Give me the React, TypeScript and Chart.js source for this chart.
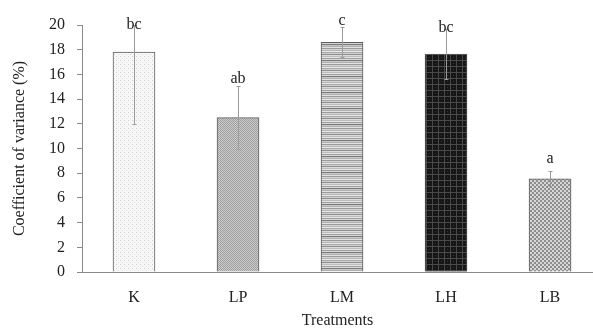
import { useEffect, useRef } from 'react';
import { Chart, registerables } from 'chart.js';

Chart.register(...registerables);

const categories = ['K', 'LP', 'LM', 'LH', 'LB'];
const means = [17.8, 12.5, 18.6, 17.65, 7.55];
const errors = [5.8, 2.55, 1.2, 2.05, 0.6];
const letters = ['bc', 'ab', 'c', 'bc', 'a'];
const letterBaselines = [19.7, 15.3, 20.0, 19.45, 8.85];
const yMin = 0;
const yMax = 20;
const yStep = 2;

function makePattern(kind: string): CanvasPattern | string {
  const c = document.createElement('canvas');
  const ctx = c.getContext('2d');
  if (!ctx) return '#ccc';
  const px = (x: number, y: number, col: string, w = 1, h = 1) => {
    ctx.fillStyle = col;
    ctx.fillRect(x, y, w, h);
  };
  if (kind === 'K') {
    c.width = 4; c.height = 4;
    px(0, 0, '#f7f7f7', 4, 4);
    px(0, 0, '#cfcfcf');
    px(2, 2, '#dedede');
  } else if (kind === 'LP') {
    c.width = 4; c.height = 4;
    for (let y = 0; y < 4; y++) for (let x = 0; x < 4; x++) px(x, y, (x + y) % 2 ? '#c9c9c9' : '#a2a2a2');
  } else if (kind === 'LM') {
    const rows = ['#9c9c9c', '#d4d4d4', '#b6b6b6', '#e8e8e8', '#a9a9a9', '#cfcfcf', '#8e8e8e', '#dcdcdc', '#bcbcbc', '#e4e4e4', '#a0a0a0', '#d8d8d8', '#7a7a7a', '#c8c8c8', '#b0b0b0', '#e2e2e2'];
    c.width = 1; c.height = rows.length;
    rows.forEach((col, i) => px(0, i, col));
  } else if (kind === 'LH') {
    c.width = 6; c.height = 6;
    px(0, 0, '#161616', 6, 6);
    px(0, 0, '#4a4a4a', 6, 1);
    px(0, 0, '#4a4a4a', 1, 6);
    px(3, 3, '#2e2e2e');
  } else {
    c.width = 4; c.height = 4;
    px(0, 0, '#d6d6d6', 4, 4);
    px(0, 0, '#8e8e8e', 2, 2);
    px(2, 2, '#8e8e8e', 2, 2);
  }
  const p = ctx.createPattern(c, 'repeat');
  return p || '#ccc';
}

const errorBarPlugin = {
  id: 'errorBars',
  afterDatasetsDraw(chart: any) {
    const { ctx, chartArea, scales } = chart;
    const xs = scales.x;
    const ys = scales.y;
    ctx.save();
    ctx.beginPath();
    ctx.rect(chartArea.left, chartArea.top, chartArea.right - chartArea.left, chartArea.bottom - chartArea.top);
    ctx.clip();
    ctx.strokeStyle = '#9a9a9a';
    ctx.lineWidth = 1;
    means.forEach((m, i) => {
      const x = Math.round(xs.getPixelForValue(i)) + 0.5;
      const yt = ys.getPixelForValue(Math.min(m + errors[i], yMax));
      const yb = ys.getPixelForValue(m - errors[i]);
      ctx.beginPath();
      ctx.moveTo(x, yt);
      ctx.lineTo(x, yb);
      ctx.moveTo(x - 2, Math.round(yt) + 0.5);
      ctx.lineTo(x + 2, Math.round(yt) + 0.5);
      ctx.moveTo(x - 2, Math.round(yb) + 0.5);
      ctx.lineTo(x + 2, Math.round(yb) + 0.5);
      ctx.stroke();
    });
    ctx.restore();
    ctx.save();
    ctx.fillStyle = '#222';
    ctx.font = '16px "Liberation Serif"';
    ctx.textAlign = 'center';
    ctx.textBaseline = 'alphabetic';
    letters.forEach((t, i) => {
      ctx.fillText(t, xs.getPixelForValue(i), ys.getPixelForValue(letterBaselines[i]));
    });
    ctx.restore();
  },
};

export default function App() {
  const ref = useRef<HTMLCanvasElement | null>(null);
  useEffect(() => {
    document.body.style.margin = '0';
    if (!ref.current) return;
    Chart.defaults.font.family = '"Liberation Serif", "Times New Roman", serif';
    const chart = new Chart(ref.current, {
      type: 'bar',
      data: {
        datasets: [
          {
            data: means.map((m, i) => ({ x: i, y: m })),
            backgroundColor: categories.map((k) => makePattern(k)),
            borderColor: '#5c5c5c',
            borderWidth: 1,
            barThickness: 42,
          } as any,
        ],
      },
      options: {
        animation: false,
        responsive: false,
        maintainAspectRatio: false,
        layout: { padding: { left: 0, right: 0, top: 25, bottom: 0 } },
        plugins: { legend: { display: false }, tooltip: { enabled: false } },
        scales: {
          x: {
            type: 'linear',
            offset: false,
            min: -0.5,
            max: 4.413,
            afterBuildTicks: (s: any) => {
              s.ticks = categories.map((_, i) => ({ value: i }));
            },
            afterFit: (s: any) => {
              s.height = 57;
            },
            grid: { display: true, offset: false, drawOnChartArea: false, drawTicks: false },
            border: { display: true, color: '#8a8a8a', width: 1 },
            ticks: {
              padding: 16,
              color: '#222',
              font: { size: 16 },
              callback: (v: any) => categories[Math.round(Number(v))] ?? '',
            },
            title: {
              display: true,
              text: 'Treatments',
              color: '#222',
              font: { size: 16, lineHeight: 1 },
              padding: { top: 0, bottom: 0 },
            },
          },
          y: {
            min: yMin,
            max: yMax,
            afterFit: (s: any) => {
              s.width = 82;
            },
            grid: { display: true, drawOnChartArea: false, drawTicks: true, tickLength: 5, color: '#8a8a8a' },
            border: { display: true, color: '#8a8a8a', width: 1 },
            ticks: { stepSize: yStep, padding: 12, color: '#222', font: { size: 16 } },
            title: {
              display: true,
              text: 'Coefficient of variance (%)',
              color: '#222',
              font: { size: 16, lineHeight: 1 },
              padding: { top: 12, bottom: 0 },
            },
          },
        },
      } as any,
      plugins: [errorBarPlugin],
    });
    return () => chart.destroy();
  }, []);
  return <canvas ref={ref} width={593} height={329} style={{ display: 'block', width: 593, height: 329 }} />;
}
